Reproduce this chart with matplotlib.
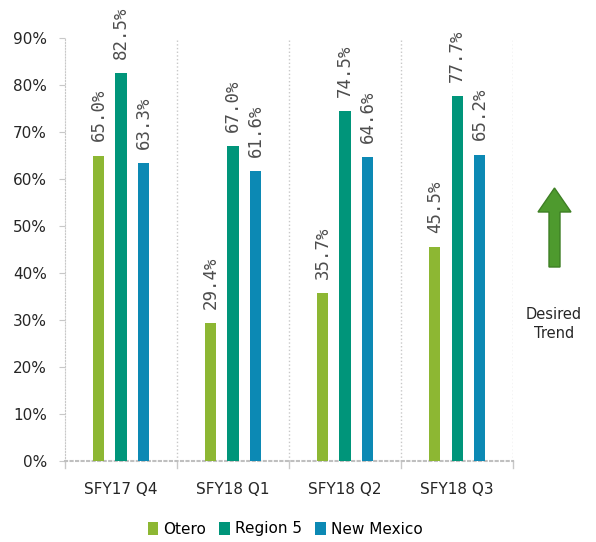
import matplotlib
matplotlib.use("Agg")
import matplotlib.pyplot as plt
import numpy as np
from matplotlib.patches import FancyArrow

categories = ["SFY17 Q4", "SFY18 Q1", "SFY18 Q2", "SFY18 Q3"]
otero = [65.0, 29.4, 35.7, 45.5]
region5 = [82.5, 67.0, 74.5, 77.7]
new_mexico = [63.3, 61.6, 64.6, 65.2]
series_names = ["Otero", "Region 5", "New Mexico"]
colors = ["#8DB733", "#00957A", "#0C89B4"]

plt.rcParams['font.family'] = ['DejaVu Sans']
fig = plt.figure(figsize=(5.96, 5.42), dpi=100)
ax = fig.add_axes([0.109, 0.1494, 0.752, 0.7805])

x = np.arange(len(categories))
w = 0.1
offsets = [-0.2, 0.0, 0.2]
for vals, name, c, off in zip([otero, region5, new_mexico], series_names, colors, offsets):
    ax.bar(x + off, vals, width=w, color=c, label=name, zorder=3)
    for xi, v in zip(x + off, vals):
        ax.text(xi, v + 3.0, f"{v:.1f}%", rotation=90, ha="center", va="bottom",
                fontsize=12.5, color="#4D4D4D", family="DejaVu Sans Mono")

ax.set_xlim(-0.5, len(categories) - 0.5)
ax.set_ylim(0, 90)
ax.set_yticks(np.arange(0, 91, 10))
ax.set_yticklabels([f"{t}%" for t in range(0, 91, 10)], fontsize=11, color="#262626")
ax.set_xticks(x)
ax.set_xticklabels(categories, fontsize=11, color="#262626")
ax.tick_params(axis="x", length=0, pad=15)
ax.tick_params(axis="y", length=4, pad=9, color="#C8C8C8")

for b in np.arange(0.5, len(categories) - 0.5 + 0.01, 1.0):
    ax.axvline(b, color="#C8C8C8", linestyle=":", linewidth=1, zorder=1)
    ax.plot([b, b], [0, -1.5], color="#C8C8C8", linewidth=1, clip_on=False)
ax.plot([-0.5, -0.5], [0, -1.5], color="#C8C8C8", linewidth=1, clip_on=False)

for s in ["top", "right"]:
    ax.spines[s].set_visible(False)
ax.spines["left"].set_color("#C8C8C8")
ax.spines["left"].set_linestyle(":")
ax.spines["bottom"].set_color("#BFBFBF")
ax.spines["bottom"].set_linestyle(":")
ax.spines["bottom"].set_linewidth(1.5)

# Desired trend arrow
fig.patches.append(FancyArrow(554.5/596, 1 - 267/542, 0, (267 - 188 - 24) / 542,
                              width=11/596, head_width=33/596, head_length=24/542,
                              length_includes_head=False, transform=fig.transFigure,
                              color="#4E9A2E", ec="#3E7F24"))
fig.text(554/596, 1 - 324/542, "Desired\nTrend", ha="center", va="center",
         fontsize=10.5, color="#262626", linespacing=1.4)

fig.legend(loc="center", bbox_to_anchor=(285/596, 1 - 529/542), ncol=3, frameon=False,
           fontsize=11, handlelength=0.7, handleheight=0.9, handletextpad=0.3,
           columnspacing=0.9)

fig.savefig("out.png", dpi=100, facecolor="white")
